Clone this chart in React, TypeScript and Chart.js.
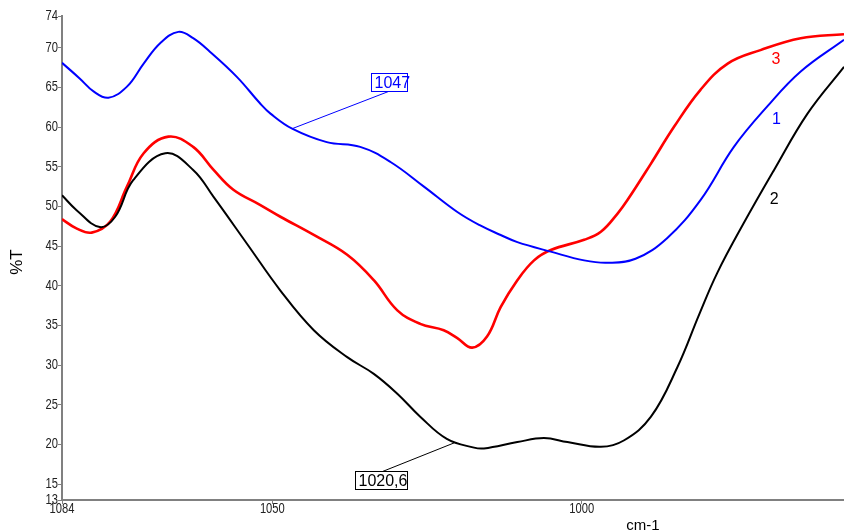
import React, { useEffect, useRef } from 'react';
import { Chart, registerables } from 'chart.js';

Chart.register(...registerables);

// Spectrum 1 (blue)
const wn1 = [1084, 1081.1, 1078.9, 1076.5, 1073.5, 1070.8, 1068.1, 1065.2, 1062.8, 1060.1, 1055.7, 1052.0, 1050.3, 1046.8, 1041.2, 1035.8, 1030.9, 1025.5, 1020.1, 1016.4, 1013.1, 1010.4, 1005.0, 999.6, 995.9, 991.3, 986.2, 980.8, 975.4, 970.0, 964.6, 957.6];
const t1 = [68.1, 66.1, 64.5, 63.7, 65.1, 68.0, 70.6, 72.0, 71.2, 69.5, 66.3, 63.0, 61.7, 59.8, 58.1, 57.5, 55.6, 52.5, 49.3, 47.6, 46.4, 45.5, 44.3, 43.2, 42.9, 43.4, 46.0, 50.8, 57.5, 62.6, 67.0, 71.0];

// Spectrum 2 (black)
const wn2 = [1084, 1081.6, 1077.9, 1075.4, 1072.5, 1067.3, 1062.8, 1059.5, 1054.1, 1048.7, 1043.3, 1037.9, 1033.6, 1029.8, 1026.1, 1021.8, 1017.4, 1015.8, 1010.4, 1006.1, 1002.3, 996.9, 993.2, 988.8, 984.5, 981.0, 978.1, 973.8, 968.9, 963.5, 957.6];
const t2 = [51.4, 49.5, 47.4, 48.7, 53.3, 56.7, 54.6, 51.2, 45.3, 39.4, 34.4, 31.0, 28.9, 26.4, 23.5, 20.7, 19.6, 19.5, 20.3, 20.8, 20.3, 19.7, 20.5, 23.5, 29.8, 36.4, 41.6, 47.9, 54.6, 61.7, 67.6];

// Spectrum 3 (red)
const wn3 = [1084, 1081.6, 1079.2, 1076.2, 1073.5, 1070.8, 1066.8, 1062.8, 1059.5, 1056.3, 1052.0, 1048.7, 1043.3, 1037.9, 1033.6, 1029.8, 1026.1, 1022.3, 1020.1, 1017.7, 1015.3, 1013.1, 1010.4, 1007.7, 1005.0, 999.6, 996.9, 994.2, 992.6, 988.8, 985.1, 980.8, 976.4, 971.1, 964.6, 957.6];
const t3 = [48.4, 47.2, 46.7, 48.1, 52.5, 56.7, 58.8, 57.5, 54.6, 52.1, 50.2, 48.7, 46.4, 43.9, 40.7, 36.9, 35.2, 34.4, 33.4, 32.2, 33.6, 37.3, 40.7, 43.2, 44.5, 45.8, 46.8, 49.1, 50.8, 55.4, 60.0, 64.7, 68.0, 69.7, 71.2, 71.7];

const xTicks = [1084, 1050, 1000];
const yTicks = [13, 15, 20, 25, 30, 35, 40, 45, 50, 55, 60, 65, 70, 74];

// Curve number labels
const curveLabelText = ['3', '1', '2'];
const curveLabelWn = [968.6, 968.5, 968.9];
const curveLabelT = [68.5, 60.9, 50.9];

// Peak annotations
const peakText = ['1047', '1020,6'];
const peakWn = [1046.8, 1020.6];
const peakT = [59.8, 20.2];
const peakBoxWn = [1034.0, 1036.6];
const peakBoxT = [66.8, 16.6];

const BLUE = '#0000ff';
const RED = '#ff0000';
const BLACK = '#000000';
const AXIS = '#808080';
const SANS = '"Liberation Sans", Arial, sans-serif';

const toPts = (xs: number[], ys: number[]) => xs.map((x, i) => ({ x, y: ys[i] }));

// draws horizontally condensed text (narrow face look)
const narrowText = (ctx: any, text: string, x: number, y: number, align: 'left' | 'right' | 'center', sx: number) => {
  ctx.save();
  ctx.translate(x, y);
  ctx.scale(sx, 1);
  ctx.textAlign = align;
  ctx.fillText(text, 0, 0);
  ctx.restore();
};

const overlay = {
  id: 'overlay',
  afterDraw(chart: any) {
    const { ctx, chartArea, scales } = chart;
    const xs = scales.x;
    const ys = scales.y;
    ctx.save();

    // tick labels
    ctx.fillStyle = '#222';
    ctx.font = '14px ' + SANS;
    ctx.textBaseline = 'middle';
    yTicks.forEach((v) => {
      narrowText(ctx, String(v), chartArea.left - 4, ys.getPixelForValue(v), 'right', 0.8);
    });
    ctx.textBaseline = 'top';
    xTicks.forEach((v) => {
      narrowText(ctx, String(v), xs.getPixelForValue(v), chartArea.bottom + 2, 'center', 0.8);
    });

    // axis titles
    ctx.fillStyle = '#000';
    ctx.font = '17px ' + SANS;
    ctx.textAlign = 'center';
    ctx.textBaseline = 'middle';
    ctx.save();
    ctx.translate(17, (chartArea.top + chartArea.bottom) / 2 + 4);
    ctx.rotate(-Math.PI / 2);
    ctx.fillText('%T', 0, 0);
    ctx.restore();
    ctx.font = '15px ' + SANS;
    ctx.textBaseline = 'alphabetic';
    ctx.fillText('cm-1', chartArea.left + (chartArea.right - chartArea.left) * 0.743, 530);

    // curve labels
    const cols = [RED, BLUE, BLACK];
    ctx.font = '16px ' + SANS;
    ctx.textBaseline = 'middle';
    curveLabelText.forEach((t, i) => {
      ctx.fillStyle = cols[i];
      ctx.fillText(t, xs.getPixelForValue(curveLabelWn[i]), ys.getPixelForValue(curveLabelT[i]));
    });

    // peak annotations
    const pcols = [BLUE, BLACK];
    const boxW = [36, 52];
    const lineFrom = [17, 27];
    ctx.font = '16px ' + SANS;
    ctx.textAlign = 'left';
    peakText.forEach((t, i) => {
      const bx = Math.round(xs.getPixelForValue(peakBoxWn[i])) + 0.5;
      const by = Math.round(ys.getPixelForValue(peakBoxT[i])) + 0.5;
      const bh = 18;
      const tx = xs.getPixelForValue(peakWn[i]);
      const ty = ys.getPixelForValue(peakT[i]);
      ctx.strokeStyle = pcols[i];
      ctx.fillStyle = pcols[i];
      ctx.lineWidth = 1;
      ctx.strokeRect(bx, by, boxW[i], bh);
      ctx.beginPath();
      const lx = bx + lineFrom[i];
      const ly = i === 0 ? by + bh : by;
      ctx.moveTo(lx, ly);
      ctx.lineTo(tx, ty);
      ctx.stroke();
      ctx.fillText(t, bx + 3, by + bh / 2 + 1);
    });
    ctx.restore();
  },
};

export default function App() {
  const ref = useRef<HTMLCanvasElement | null>(null);
  useEffect(() => {
    if (!ref.current) return;
    const chart = new Chart(ref.current, {
      type: 'line',
      data: {
        datasets: [
          { label: '1', data: toPts(wn1, t1), borderColor: BLUE, borderWidth: 2 },
          { label: '2', data: toPts(wn2, t2), borderColor: BLACK, borderWidth: 2 },
          { label: '3', data: toPts(wn3, t3), borderColor: RED, borderWidth: 2.6 },
        ].map((d) => ({ ...d, pointRadius: 0, fill: false, tension: 0.4 })),
      },
      options: {
        animation: false,
        responsive: false,
        layout: { padding: { top: 16, right: 0, left: 0, bottom: 0 } },
        plugins: { legend: { display: false }, tooltip: { enabled: false }, title: { display: false } },
        scales: {
          x: {
            type: 'linear',
            reverse: true,
            min: 957.6,
            max: 1084,
            afterBuildTicks: (s: any) => { s.ticks = xTicks.map((v) => ({ value: v })); },
            afterFit: (s: any) => { s.height = 30; },
            grid: { drawOnChartArea: false, tickLength: 4, color: AXIS },
            border: { color: AXIS, width: 2 },
            ticks: { display: false, autoSkip: false, maxRotation: 0 },
          },
          y: {
            type: 'linear',
            min: 13,
            max: 74,
            afterBuildTicks: (s: any) => { s.ticks = yTicks.map((v) => ({ value: v })); },
            afterFit: (s: any) => { s.width = 62; },
            grid: { drawOnChartArea: false, tickLength: 4, color: AXIS },
            border: { color: AXIS, width: 2 },
            ticks: { display: false, autoSkip: false },
          },
        },
      },
      plugins: [overlay],
    });
    return () => chart.destroy();
  }, []);
  return (
    <div style={{ position: 'absolute', left: 0, top: 0, width: 844, height: 530 }}>
      <canvas ref={ref} width={844} height={530} />
    </div>
  );
}
